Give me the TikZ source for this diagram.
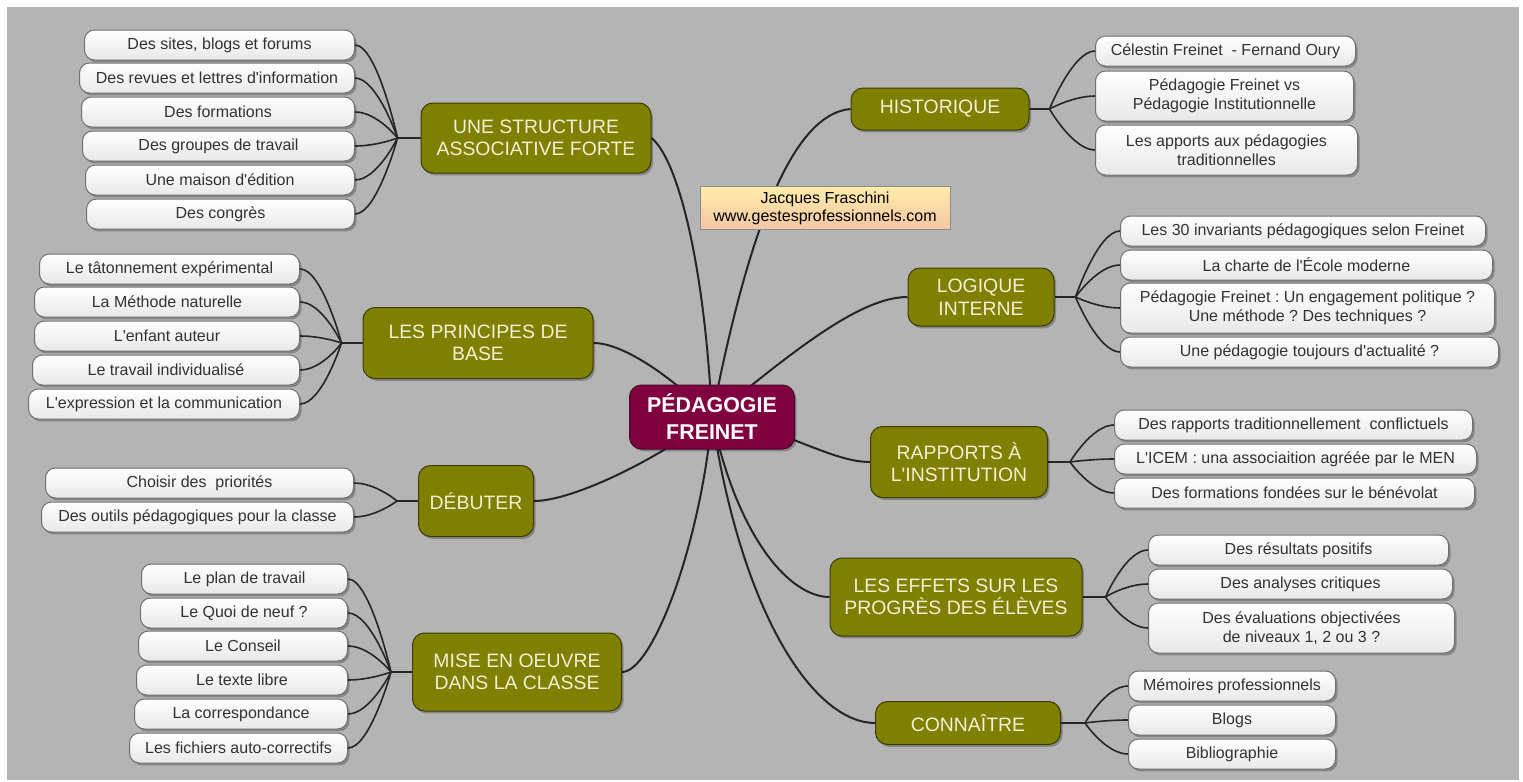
\documentclass[tikz,border=0pt]{standalone}
\usepackage{fontspec}
\setmainfont{Liberation Sans}[Ligatures=TeXOff]
\usepackage{tikz}
\usetikzlibrary{positioning,shadows}
\frenchspacing

\definecolor{canvas}{RGB}{180,180,180}
\definecolor{olivebox}{RGB}{128,128,0}
\definecolor{olivedark}{RGB}{60,60,10}
\definecolor{creamtext}{RGB}{242,240,212}
\definecolor{wine}{RGB}{128,0,64}
\definecolor{winedark}{RGB}{70,10,40}
\definecolor{leaftext}{RGB}{50,50,50}
\definecolor{leafedge}{RGB}{112,112,112}
\definecolor{creditup}{RGB}{255,236,168}
\definecolor{creditdown}{RGB}{244,198,166}

\pgfdeclarelayer{bg}
\pgfdeclarelayer{links}
\pgfsetlayers{bg,links,main}

\tikzset{
    softshadow/.style={drop shadow={shadow xshift=1pt,shadow yshift=-1.2pt,opacity=0.25,fill=black}},
    leaf/.style={draw=leafedge,line width=0.5pt,rounded corners=5pt,top color=white,bottom color=black!9,
        text=leaftext,font=\fontsize{8}{9.5}\selectfont,align=center,inner sep=0pt,minimum height=15pt,softshadow},
    leaftwo/.style={leaf,minimum height=25pt},
    branch/.style={draw=olivedark,line width=0.5pt,fill=olivebox,rounded corners=6pt,text=creamtext,
        font=\fontsize{9.7}{11.3}\selectfont,align=center,inner sep=0pt,softshadow},
    hub/.style={draw=winedark,line width=0.5pt,fill=wine,rounded corners=6pt,text=white,
        font=\fontsize{10.7}{13.5}\selectfont\bfseries,align=center,inner sep=0pt,softshadow},
    credit/.style={draw=black!45,line width=0.5pt,top color=creditup,bottom color=creditdown,text=black,
        font=\fontsize{8}{9}\selectfont,align=center,inner sep=0pt},
    link/.style={draw=black!85,line width=1pt},
    twig/.style={draw=black!85,line width=0.8pt}
}

\begin{document}
\begin{tikzpicture}[x=0.5pt,y=0.5pt]
    \useasboundingbox (0,0) rectangle (1523,-782);
    \begin{pgfonlayer}{bg}
        \fill[canvas] (7,-7) rectangle (1519,-780);
    \end{pgfonlayer}

    % centre and credit
    \node[hub,minimum width=82.5pt,minimum height=32pt] (pf) at (712,-417) {PÉDAGOGIE\\FREINET};
    \node[credit,minimum width=125pt,minimum height=21.5pt] (credit) at (825,-208) {Jacques Fraschini\\www.gestesprofessionnels.com};

    % main branches
    \node[branch,minimum width=115pt,minimum height=35pt] (struct) at (536,-138) {UNE STRUCTURE\\ASSOCIATIVE FORTE};
    \node[branch,minimum width=115pt,minimum height=35.5pt] (princ) at (478,-343) {LES PRINCIPES DE\\BASE};
    \node[branch,minimum width=57.5pt,minimum height=35.5pt] (debut) at (476,-501) {DÉBUTER};
    \node[branch,minimum width=104.5pt,minimum height=39pt] (mise) at (517,-672) {MISE EN OEUVRE\\DANS LA CLASSE};
    \node[branch,minimum width=89pt,minimum height=21pt] (histo) at (940,-109) {HISTORIQUE};
    \node[branch,minimum width=73pt,minimum height=29pt] (logiq) at (981,-297) {LOGIQUE\\INTERNE};
    \node[branch,minimum width=88.5pt,minimum height=35.5pt] (rapp) at (959,-462) {RAPPORTS À\\L'INSTITUTION};
    \node[branch,minimum width=126pt,minimum height=39pt] (effets) at (956,-597) {LES EFFETS SUR LES\\PROGRÈS DES ÉLÈVES};
    \node[branch,minimum width=92.5pt,minimum height=21.5pt] (conn) at (968,-723) {CONNAÎTRE};

    % junctions
    \coordinate[left=11.5pt of struct] (js);
    \coordinate[left=10.5pt of princ] (jp);
    \coordinate[left=10.5pt of debut] (jd);
    \coordinate[left=10.5pt of mise] (jm);
    \coordinate[right=10pt of histo] (jh);
    \coordinate[right=10.5pt of logiq] (jl);
    \coordinate[right=11pt of rapp] (jr);
    \coordinate[right=11.5pt of effets] (je);
    \coordinate[right=12pt of conn] (jc);

    % une structure associative forte
    \node[leaf,anchor=east,minimum width=135pt] (s1) at (355,-45) {Des sites, blogs et forums};
    \node[leaf,anchor=east,minimum width=137.5pt] (s2) at (355,-78) {Des revues et lettres d'information};
    \node[leaf,anchor=east,minimum width=136.5pt] (s3) at (355,-112) {Des formations};
    \node[leaf,anchor=east,minimum width=136pt] (s4) at (355,-146) {Des groupes de travail};
    \node[leaf,anchor=east,minimum width=134.5pt] (s5) at (355,-180) {Une maison d'édition};
    \node[leaf,anchor=east,minimum width=134pt] (s6) at (355,-214) {Des congrès};

    % les principes de base
    \node[leaf,anchor=east,minimum width=130pt] (p1) at (300,-269) {Le tâtonnement expérimental};
    \node[leaf,anchor=east,minimum width=132.5pt] (p2) at (300,-302) {La Méthode naturelle};
    \node[leaf,anchor=east,minimum width=132.5pt] (p3) at (300,-336) {L'enfant auteur};
    \node[leaf,anchor=east,minimum width=133.5pt] (p4) at (300,-370) {Le travail individualisé};
    \node[leaf,anchor=east,minimum width=135.5pt] (p5) at (300,-404) {L'expression et la communication};

    % debuter
    \node[leaf,anchor=east,minimum width=154pt] (d1) at (354,-483) {Choisir des\ \ priorités};
    \node[leaf,anchor=east,minimum width=156pt] (d2) at (354,-517) {Des outils pédagogiques pour la classe};

    % mise en oeuvre
    \node[leaf,anchor=east,minimum width=103pt] (m1) at (348,-579) {Le plan de travail};
    \node[leaf,anchor=east,minimum width=103.5pt] (m2) at (348,-613) {Le Quoi de neuf ?};
    \node[leaf,anchor=east,minimum width=104.5pt] (m3) at (348,-646) {Le Conseil};
    \node[leaf,anchor=east,minimum width=105.5pt] (m4) at (348,-680) {Le texte libre};
    \node[leaf,anchor=east,minimum width=106.5pt] (m5) at (348,-714) {La correspondance};
    \node[leaf,anchor=east,minimum width=109pt] (m6) at (348,-748) {Les fichiers auto-correctifs};

    % historique
    \node[leaf,anchor=west,minimum width=130pt] (hi1) at (1095,-51) {Célestin Freinet\ \ - Fernand Oury};
    \node[leaftwo,anchor=west,minimum width=129pt] (hi2) at (1095,-96) {Pédagogie Freinet vs\\Pédagogie Institutionnelle};
    \node[leaftwo,anchor=west,minimum width=131pt] (hi3) at (1095,-150) {Les apports aux pédagogies\\traditionnelles};

    % logique interne
    \node[leaf,anchor=west,minimum width=182.5pt] (lo1) at (1120,-231) {Les 30 invariants pédagogiques selon Freinet};
    \node[leaf,anchor=west,minimum width=186pt] (lo2) at (1120,-265) {La charte de l'École moderne};
    \node[leaftwo,anchor=west,minimum width=187pt] (lo3) at (1120,-308) {Pédagogie Freinet : Un engagement politique ?\\Une méthode ? Des techniques ?};
    \node[leaf,anchor=west,minimum width=189pt] (lo4) at (1120,-352) {Une pédagogie toujours d'actualité ?};

    % rapports a l'institution
    \node[leaf,anchor=west,minimum width=179pt] (ra1) at (1114,-425) {Des rapports traditionnellement\ \ conflictuels};
    \node[leaf,anchor=west,minimum width=181pt] (ra2) at (1114,-459) {L'ICEM : una associaition agréée par le MEN};
    \node[leaf,anchor=west,minimum width=180pt] (ra3) at (1114,-493) {Des formations fondées sur le bénévolat};

    % les effets
    \node[leaf,anchor=west,minimum width=150pt] (ef1) at (1148,-550) {Des résultats positifs};
    \node[leaf,anchor=west,minimum width=152pt] (ef2) at (1148,-584) {Des analyses critiques};
    \node[leaftwo,anchor=west,minimum width=153pt] (ef3) at (1148,-628) {Des évaluations objectivées\\de niveaux 1, 2 ou 3 ?};

    % connaitre
    \node[leaf,anchor=west,minimum width=103.5pt] (co1) at (1128,-686) {Mémoires professionnels};
    \node[leaf,anchor=west,minimum width=103.5pt] (co2) at (1128,-720) {Blogs};
    \node[leaf,anchor=west,minimum width=103.5pt] (co3) at (1128,-754) {Bibliographie};

    \begin{pgfonlayer}{links}
        % centre to branches
        \draw[link] (pf.center) .. controls +(-8,160) and +(25,-20) .. (struct.east);
        \draw[link] (pf.center) .. controls +(-40,40) and +(30,0) .. (princ.east);
        \draw[link] (pf.center) .. controls +(-50,-40) and +(40,0) .. (debut.east);
        \draw[link] (pf.center) .. controls +(-12,-130) and +(30,0) .. (mise.east);
        \draw[link] (pf.center) .. controls +(35,180) and +(-60,-5) .. (histo.west);
        \draw[link] (pf.center) .. controls +(75,60) and +(-50,0) .. (logiq.west);
        \draw[link] (pf.center) .. controls +(70,-10) and +(-40,0) .. (rapp.west);
        \draw[link] (pf.center) .. controls +(25,-120) and +(-40,0) .. (effets.west);
        \draw[link] (pf.center) .. controls +(30,-200) and +(-60,0) .. (conn.west);

        % branches to junctions
        \draw[twig] (struct.west) -- (js);
        \draw[twig] (princ.west) -- (jp);
        \draw[twig] (debut.west) -- (jd);
        \draw[twig] (mise.west) -- (jm);
        \draw[twig] (histo.east) -- (jh);
        \draw[twig] (logiq.east) -- (jl);
        \draw[twig] (rapp.east) -- (jr);
        \draw[twig] (effets.east) -- (je);
        \draw[twig] (conn.east) -- (jc);

        % junctions to leaves, left side
        \draw[twig] (js) .. controls (js) and +(22,0) .. (s1.east);
        \draw[twig] (js) .. controls (js) and +(22,0) .. (s2.east);
        \draw[twig] (js) .. controls (js) and +(22,0) .. (s3.east);
        \draw[twig] (js) .. controls (js) and +(22,0) .. (s4.east);
        \draw[twig] (js) .. controls (js) and +(22,0) .. (s5.east);
        \draw[twig] (js) .. controls (js) and +(22,0) .. (s6.east);
        \draw[twig] (jp) .. controls (jp) and +(22,0) .. (p1.east);
        \draw[twig] (jp) .. controls (jp) and +(22,0) .. (p2.east);
        \draw[twig] (jp) .. controls (jp) and +(22,0) .. (p3.east);
        \draw[twig] (jp) .. controls (jp) and +(22,0) .. (p4.east);
        \draw[twig] (jp) .. controls (jp) and +(22,0) .. (p5.east);
        \draw[twig] (jd) .. controls (jd) and +(22,0) .. (d1.east);
        \draw[twig] (jd) .. controls (jd) and +(22,0) .. (d2.east);
        \draw[twig] (jm) .. controls (jm) and +(22,0) .. (m1.east);
        \draw[twig] (jm) .. controls (jm) and +(22,0) .. (m2.east);
        \draw[twig] (jm) .. controls (jm) and +(22,0) .. (m3.east);
        \draw[twig] (jm) .. controls (jm) and +(22,0) .. (m4.east);
        \draw[twig] (jm) .. controls (jm) and +(22,0) .. (m5.east);
        \draw[twig] (jm) .. controls (jm) and +(22,0) .. (m6.east);

        % junctions to leaves, right side
        \draw[twig] (jh) .. controls (jh) and +(-22,0) .. (hi1.west);
        \draw[twig] (jh) .. controls (jh) and +(-22,0) .. (hi2.west);
        \draw[twig] (jh) .. controls (jh) and +(-22,0) .. (hi3.west);
        \draw[twig] (jl) .. controls (jl) and +(-22,0) .. (lo1.west);
        \draw[twig] (jl) .. controls (jl) and +(-22,0) .. (lo2.west);
        \draw[twig] (jl) .. controls (jl) and +(-22,0) .. (lo3.west);
        \draw[twig] (jl) .. controls (jl) and +(-22,0) .. (lo4.west);
        \draw[twig] (jr) .. controls (jr) and +(-22,0) .. (ra1.west);
        \draw[twig] (jr) .. controls (jr) and +(-22,0) .. (ra2.west);
        \draw[twig] (jr) .. controls (jr) and +(-22,0) .. (ra3.west);
        \draw[twig] (je) .. controls (je) and +(-22,0) .. (ef1.west);
        \draw[twig] (je) .. controls (je) and +(-22,0) .. (ef2.west);
        \draw[twig] (je) .. controls (je) and +(-22,0) .. (ef3.west);
        \draw[twig] (jc) .. controls (jc) and +(-22,0) .. (co1.west);
        \draw[twig] (jc) .. controls (jc) and +(-22,0) .. (co2.west);
        \draw[twig] (jc) .. controls (jc) and +(-22,0) .. (co3.west);
    \end{pgfonlayer}
\end{tikzpicture}
\end{document}
